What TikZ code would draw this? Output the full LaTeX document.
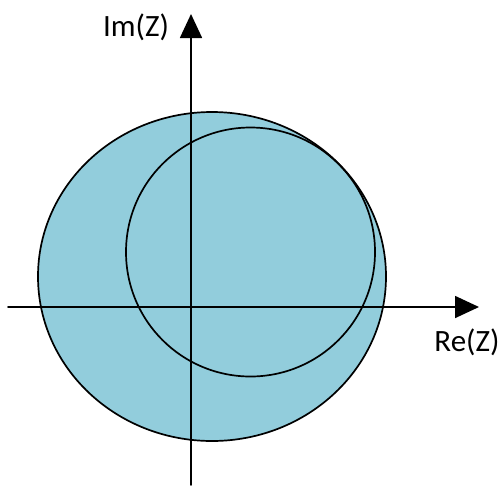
\documentclass[tikz,border=0pt]{standalone}
\usepackage{fontspec}
\setmainfont{Carlito}
\usetikzlibrary{arrows.meta}
\definecolor{diskblue}{RGB}{146,205,220}

\begin{document}
\begin{tikzpicture}[x=1pt,y=-1pt,line cap=round,line join=round]
        \useasboundingbox (0,0) rectangle (502,485);
        \coordinate (O) at (191,307);

        % outer region and inner circle
        \fill[diskblue] (212,276.5) ellipse (174 and 164.5);
        \draw[line width=1.7pt] (212,276.5) ellipse (174 and 164.5);
        \draw[line width=1.7pt] (250.5,252) circle (124.5);

        % axes
        \coordinate (xl) at (8,307);
        \coordinate (xr) at (479,307);
        \coordinate (yb) at (191,485);
        \coordinate (yt) at (191,14);
        \draw[-{Triangle[length=24pt,width=22pt]},line width=1.7pt] (xl) -- (xr);
        \draw[-{Triangle[length=24pt,width=22pt]},line width=1.7pt] (yb) -- (yt);

        \node[font=\fontsize{31}{37}\selectfont] (imlab) at (136,27) {Im(Z)};
        \node[font=\fontsize{31}{37}\selectfont] (relab) at (467,342) {Re(Z)};
    \end{tikzpicture}
\end{document}
